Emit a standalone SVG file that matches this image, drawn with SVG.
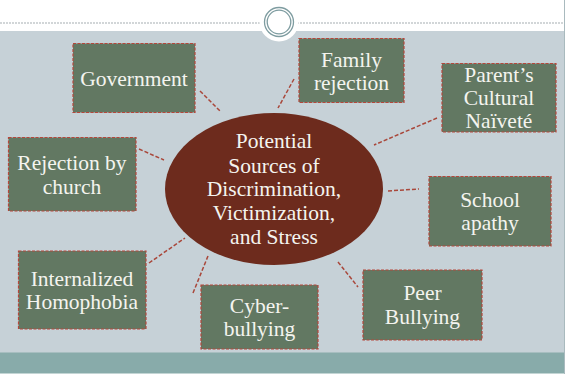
<svg xmlns="http://www.w3.org/2000/svg" width="566" height="378" viewBox="0 0 566 378">
<style>
.box{fill:#627862;stroke:#B5473B;stroke-width:1.2;stroke-dasharray:3 1.5}
.c{stroke:#A9473A;stroke-width:1.5;stroke-dasharray:4 2;fill:none}
</style>
<rect x="0" y="0" width="566" height="378" fill="#FFFFFF"/>
<rect x="0" y="31" width="564" height="322" fill="#C6D1D7"/>
<rect x="0" y="352.5" width="564" height="21" fill="#88ABAA"/>
<line x1="0" y1="23" x2="564" y2="23" stroke="#C3C9CB" stroke-width="1.5" stroke-dasharray="2 1"/>
<line x1="564.5" y1="0" x2="564.5" y2="374" stroke="#A9BABE" stroke-width="1"/>
<circle cx="279" cy="22" r="19.5" fill="#FFFFFF"/>
<circle cx="279" cy="22" r="14.5" fill="#FFFFFF" stroke="#7E9CA0" stroke-width="1.3"/>
<circle cx="279" cy="22" r="11.8" fill="none" stroke="#7E9CA0" stroke-width="1.3"/>

<g id="connectors">
<line class="c" x1="200" y1="91" x2="220" y2="111"/>
<line class="c" x1="294" y1="79" x2="278" y2="108"/>
<line class="c" x1="437" y1="118" x2="374" y2="145"/>
<line class="c" x1="139" y1="149" x2="164" y2="160"/>
<line class="c" x1="388" y1="191" x2="419" y2="189"/>
<line class="c" x1="149" y1="263" x2="185" y2="238"/>
<line class="c" x1="193" y1="293" x2="208" y2="256"/>
<line class="c" x1="338" y1="262" x2="358" y2="287"/>
</g>

<g font-family="Liberation Serif, DejaVu Serif, serif" font-size="21.5" fill="#F4F4EF" text-anchor="middle">
<g id="center">
<ellipse cx="274" cy="189" rx="109" ry="76" fill="#6D2B1D"/>
<text x="274" y="148">Potential</text>
<text x="274" y="172.5">Sources of</text>
<text x="274" y="196">Discrimination,</text>
<text x="274" y="220">Victimization,</text>
<text x="274" y="243.5">and Stress</text>
</g>

<g id="government">
<rect class="box" x="73" y="43.5" width="122" height="69"/>
<text x="134" y="86">Government</text>
</g>

<g id="family">
<rect class="box" x="299" y="38.5" width="105" height="64"/>
<text x="351.5" y="67">Family</text>
<text x="351.5" y="89.5">rejection</text>
</g>

<g id="parent">
<rect class="box" x="442" y="63.5" width="114" height="68.5"/>
<text x="499" y="82">Parent’s</text>
<text x="499" y="104.5">Cultural</text>
<text x="499" y="128">Naïveté</text>
</g>

<g id="church">
<rect class="box" x="8.5" y="137.5" width="127.5" height="73.5"/>
<text x="72" y="170">Rejection by</text>
<text x="72" y="193.5">church</text>
</g>

<g id="school">
<rect class="box" x="429" y="176.5" width="122" height="69.5"/>
<text x="490" y="207">School</text>
<text x="490" y="229.5">apathy</text>
</g>

<g id="internalized">
<rect class="box" x="18.5" y="251" width="127.5" height="78"/>
<text x="82" y="286">Internalized</text>
<text x="82" y="308.5">Homophobia</text>
</g>

<g id="cyber">
<rect class="box" x="201" y="285" width="117" height="64"/>
<text x="259.5" y="312.5">Cyber-</text>
<text x="259.5" y="336">bullying</text>
</g>

<g id="peer">
<rect class="box" x="363" y="270" width="119" height="70"/>
<text x="422.5" y="299.5">Peer</text>
<text x="422.5" y="323.5">Bullying</text>
</g>
</g>
</svg>
